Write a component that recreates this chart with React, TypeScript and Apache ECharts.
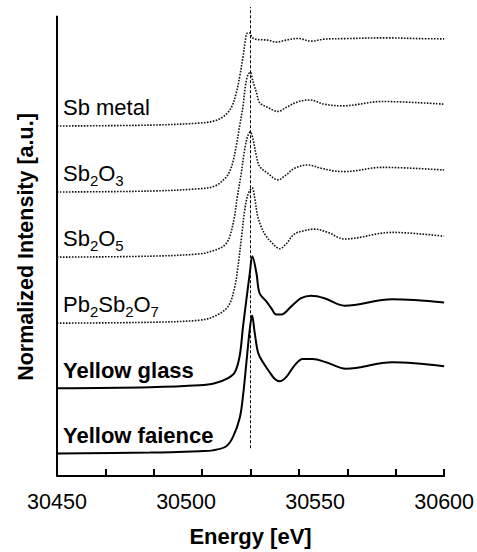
import React, { useEffect, useRef } from "react";
import * as echarts from "echarts";

// Energy [eV] vs normalized intensity (edge-step units, baseline = 0)
const sbMetal: [number, number][] = [[30450,0],[30486,0.01],[30505.3,0.034],[30511.1,0.06],[30514.9,0.117],[30517.6,0.216],[30519.5,0.386],[30520.8,0.572],[30522.1,0.8],[30523.0,0.99],[30523.6,1.065],[30524.7,1.072],[30525.6,1.02],[30527.3,0.997],[30531.6,0.989],[30535.0,0.966],[30538.8,0.989],[30543.3,1.008],[30548.5,0.977],[30553.6,1.0],[30561.4,1.006],[30577.6,1.015],[30590.3,1.006],[30600,1.003]];
const sb2o3: [number, number][] = [[30450,0],[30486,0.011],[30505.3,0.038],[30511.1,0.068],[30514.9,0.15],[30516.8,0.23],[30518.2,0.35],[30519.5,0.538],[30520.8,0.765],[30522.1,0.992],[30523.0,1.219],[30524.0,1.352],[30524.9,1.378],[30525.9,1.276],[30527.3,1.144],[30528.5,1.03],[30531.7,0.974],[30535.6,0.928],[30538.8,0.974],[30543.3,1.038],[30547.8,1.06],[30553.6,1.011],[30560.7,0.992],[30576.0,1.042],[30600,1.011]];
const sb2o5: [number, number][] = [[30450,0],[30486,0.011],[30505.3,0.038],[30511.1,0.08],[30514.9,0.136],[30516.8,0.227],[30518.7,0.455],[30519.8,0.682],[30521.3,0.947],[30522.6,1.216],[30523.8,1.386],[30524.9,1.443],[30525.9,1.364],[30527.2,1.174],[30528.5,1.045],[30531.6,0.966],[30535.6,0.89],[30538.8,0.947],[30542.0,1.023],[30547.2,1.061],[30552.4,1.023],[30557.5,0.992],[30561.4,0.985],[30576,1.034],[30600,1.003]];
const pb2sb2o7: [number, number][] = [[30450,0],[30486,0.01],[30505.3,0.034],[30511.1,0.08],[30516.3,0.193],[30518.9,0.42],[30520.1,0.648],[30521.5,0.989],[30522.7,1.295],[30524.0,1.481],[30525.6,1.557],[30526.6,1.443],[30527.9,1.216],[30530.5,1.026],[30533.7,0.913],[30536.3,0.856],[30538.8,0.913],[30542.0,1.026],[30545.9,1.065],[30549.8,1.083],[30554.9,1.045],[30561.4,0.969],[30579.9,1.045],[30600,1.0]];
const yellowGlass: [number, number][] = [[30450,0],[30486,0.012],[30505.3,0.034],[30511.1,0.057],[30516.1,0.114],[30518.9,0.185],[30520.8,0.375],[30522.1,0.716],[30523.4,1.023],[30524.7,1.322],[30525.7,1.519],[30527.3,1.322],[30528.5,1.094],[30531.1,1.0],[30533.0,0.924],[30535.0,0.849],[30536.9,0.849],[30540.8,0.943],[30544.6,1.037],[30548.5,1.065],[30553.6,1.037],[30561.4,0.951],[30579.9,1.026],[30600,0.989]];
const yellowFaience: [number, number][] = [[30450,0],[30486,0.01],[30505.3,0.026],[30510.4,0.035],[30515.6,0.083],[30518.2,0.19],[30520.8,0.409],[30522.1,0.67],[30523.4,1.049],[30524.7,1.432],[30525.6,1.588],[30526.6,1.39],[30527.9,1.163],[30529.8,1.049],[30532.4,0.935],[30534.3,0.86],[30536.3,0.83],[30538.8,0.878],[30542.0,1.011],[30545.2,1.088],[30549.1,1.088],[30554.3,1.049],[30562,0.974],[30579.9,1.049],[30600,1.004]];

const seriesNames = ["Sb metal", "Sb2O3", "Sb2O5", "Pb2Sb2O7", "Yellow glass", "Yellow faience"];
const seriesData = [sbMetal, sb2o3, sb2o5, pb2sb2o7, yellowGlass, yellowFaience];
const stackOffsets = [4.03, 3.27, 2.52, 1.76, 1.01, 0.26];
const isSample = [false, false, false, false, true, true];

const xMin = 30450;
const xMax = 30600;
const yMax = 5.4;
const xTickInterval = 18.75; // 30450 = 1624 * 18.75
const xLabelValues = [30450, 30500, 30550, 30600];
const edgeEnergy = 30525;
const yTitle = "Normalized Intensity [a.u.]";
const xTitle = "Energy [eV]";

const FONT = "'Liberation Sans', Arial, Helvetica, sans-serif";

function subscriptFormat(name: string): string {
  return name.replace(/(\d+)/g, "{s|$1}");
}

export default function App() {
  const ref = useRef<HTMLDivElement>(null);
  useEffect(() => {
    if (!ref.current) return;
    const chart = echarts.init(ref.current, undefined, { renderer: "svg" });

    const series: any[] = seriesData.map((d, i) => {
      const s: any = {
        type: "line",
        name: seriesNames[i],
        data: d.map(([e, v]) => [e, v + stackOffsets[i]]),
        showSymbol: false,
        symbol: "none",
        smooth: 0.35,
        silent: true,
        lineStyle: isSample[i]
          ? { color: "#000", width: 2, type: "solid" }
          : { color: "#111", width: 1.6, type: [1.6, 1.4] },
        markPoint: {
          silent: true,
          symbol: "circle",
          symbolSize: 1,
          itemStyle: { color: "rgba(0,0,0,0)" },
          data: [{ coord: [xMin, stackOffsets[i] + 0.21] }],
          label: {
            show: true,
            position: "right",
            distance: 5.5,
            formatter: () => subscriptFormat(seriesNames[i]),
            color: "#000",
            fontFamily: FONT,
            fontSize: 22,
            fontWeight: isSample[i] ? "bold" : "normal",
            lineHeight: 28,
            rich: {
              s: {
                fontFamily: FONT,
                fontSize: 15,
                color: "#000",
                verticalAlign: "bottom",
              },
            },
          },
        },
      };
      return s;
    });
    series[0].markLine = {
      silent: true,
      symbol: ["none", "none"],
      label: { show: false },
      lineStyle: { color: "#000", width: 1, type: [3, 2] },
      data: [[{ coord: [edgeEnergy, 0.32] }, { coord: [edgeEnergy, yMax] }]],
    };
    // left axis line (stops below the top of the dashed reference line)
    series[5].markLine = {
      silent: true,
      symbol: ["none", "none"],
      label: { show: false },
      lineStyle: { color: "#000", width: 2, type: "solid" },
      data: [[{ coord: [xMin, 0] }, { coord: [xMin, 5.3] }]],
    };

    chart.setOption({
      animation: false,
      backgroundColor: "#fff",
      grid: { left: 57, right: 32, top: 7, bottom: 70, containLabel: false },
      graphic: [
        {
          type: "text",
          x: 26,
          y: 247,
          rotation: Math.PI / 2,
          silent: true,
          style: {
            text: yTitle,
            fill: "#000",
            font: `bold 21.5px ${FONT}`,
            textAlign: "center",
            textVerticalAlign: "middle",
          },
        },
      ],
      xAxis: {
        type: "value",
        min: xMin,
        max: xMax,
        interval: xTickInterval,
        position: "bottom",
        axisLine: { show: true, onZero: false, lineStyle: { color: "#000", width: 2 } },
        axisTick: { show: true, inside: true, length: 7, lineStyle: { color: "#000", width: 2 } },
        axisLabel: {
          show: true,
          customValues: xLabelValues,
          color: "#000",
          fontFamily: FONT,
          fontSize: 21.5,
          margin: 15,
          showMinLabel: true,
          showMaxLabel: true,
          formatter: (v: number) => String(v),
        },
        splitLine: { show: false },
        name: xTitle,
        nameLocation: "middle",
        nameGap: 49,
        nameTextStyle: { color: "#000", fontFamily: FONT, fontSize: 22, fontWeight: "bold" },
      },
      yAxis: {
        type: "value",
        min: 0,
        max: yMax,
        axisLine: { show: false },
        axisTick: { show: false },
        axisLabel: { show: false },
        splitLine: { show: false },
      },
      series,
    });
    return () => chart.dispose();
  }, []);
  return <div ref={ref} style={{ width: 477, height: 552, position: "absolute", left: 0, top: 0 }} />;
}
